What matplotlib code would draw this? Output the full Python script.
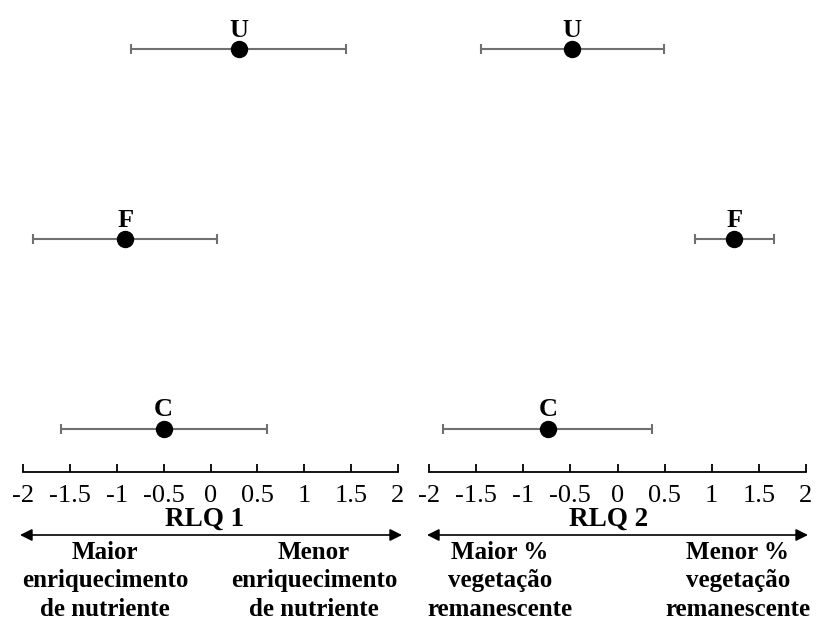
import matplotlib
matplotlib.use("agg")
import matplotlib.pyplot as plt
import numpy as np

plt.rcParams['font.family'] = ['Liberation Serif', 'DejaVu Serif']

groups = ["C", "F", "U"]
rlq1_mean = [-0.50, -0.91, 0.30]
rlq1_err = [1.10, 0.98, 1.15]
rlq2_mean = [-0.74, 1.24, -0.48]
rlq2_err = [1.11, 0.42, 0.97]
ticks = [-2, -1.5, -1, -0.5, 0, 0.5, 1, 1.5, 2]
tick_labels = ["-2", "-1.5", "-1", "-0.5", "0", "0.5", "1", "1.5", "2"]

axis_titles = ["RLQ 1", "RLQ 2"]
left_texts = ["Maior\nenriquecimento\nde nutriente", "Maior %\nvegetação\nremanescente"]
right_texts = ["Menor\nenriquecimento\nde nutriente", "Menor %\nvegetação\nremanescente"]

W, H = 816, 621
fig = plt.figure(figsize=(W / 100, H / 100), dpi=100)

panels = [
    dict(x0=23, x1=398, means=rlq1_mean, errs=rlq1_err, title_x=205, lx=105, rx=314, ax0=20, ax1=402),
    dict(x0=429, x1=806, means=rlq2_mean, errs=rlq2_err, title_x=609, lx=500, rx=738, ax0=427, ax1=808),
]

for i, p in enumerate(panels):
    ax = fig.add_axes([p["x0"] / W, 149 / H, (p["x1"] - p["x0"]) / W, 472 / H])
    ypos = np.arange(1, len(groups) + 1)
    ax.errorbar(p["means"], ypos, xerr=p["errs"], fmt="none", ecolor="#707070",
                elinewidth=1.5, capsize=3.5, capthick=1.5)
    ax.plot(p["means"], ypos, "o", color="black", markersize=11.5)
    for g, m, y in zip(groups, p["means"], ypos):
        ax.annotate(g, (m, y), xytext=(0, 9), textcoords="offset points",
                    ha="center", va="baseline", fontsize=19, fontweight="bold")
    ax.set_xlim(-2, 2)
    ax.set_ylim(0.773, 3.26)
    ax.set_xticks(ticks)
    ax.set_xticklabels(tick_labels, fontsize=19)
    ax.set_yticks([])
    for s in ["top", "left", "right"]:
        ax.spines[s].set_visible(False)
    ax.spines["bottom"].set_linewidth(1.3)
    ax.tick_params(axis="x", direction="in", length=6, width=1.3, pad=9)
    ax.patch.set_alpha(0)

    fig.text(p["title_x"] / W, 1 - 519 / H, axis_titles[i], ha="center", va="center",
             fontsize=19.5, fontweight="bold")
    fig.add_artist(matplotlib.patches.FancyArrowPatch(
        (p["ax0"] / W, 1 - 535 / H), (p["ax1"] / W, 1 - 535 / H),
        transform=fig.transFigure, arrowstyle="<|-|>", mutation_scale=18,
        color="black", linewidth=1.2, shrinkA=0, shrinkB=0))
    fig.text(p["lx"] / W, 1 - 581 / H, left_texts[i], ha="center", va="center",
             fontsize=18, fontweight="bold", linespacing=1.3)
    fig.text(p["rx"] / W, 1 - 581 / H, right_texts[i], ha="center", va="center",
             fontsize=18, fontweight="bold", linespacing=1.3)

fig.savefig("out.png", dpi=100)
